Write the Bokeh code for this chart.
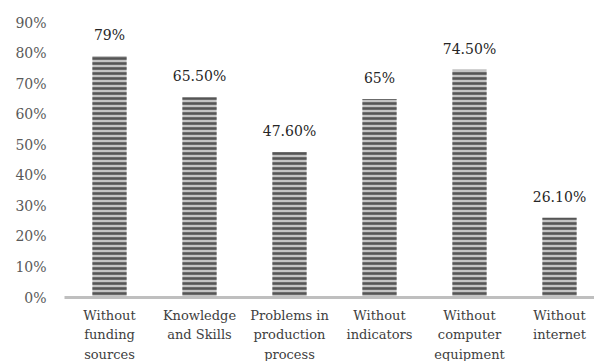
from bokeh.plotting import figure
from bokeh.models import Range1d, ColumnDataSource, FixedTicker, NumeralTickFormatter
from bokeh.core.properties import value
from bokeh.embed import file_html
from bokeh.resources import INLINE

categories = ["Without\nfunding\nsources", "Knowledge\nand Skills", "Problems in\nproduction\nprocess",
              "Without\nindicators", "Without\ncomputer\nequipment", "Without\ninternet"]
values = [0.79, 0.655, 0.476, 0.65, 0.745, 0.261]
value_labels = ["79%", "65.50%", "47.60%", "65%", "74.50%", "26.10%"]
y_ticks = [0, 0.1, 0.2, 0.3, 0.4, 0.5, 0.6, 0.7, 0.8, 0.9]

FONT = "DejaVu Serif"
xs = [i + 0.5 for i in range(len(categories))]

p = figure(frame_width=530, frame_height=275, output_backend="svg", toolbar_location=None,
           x_range=Range1d(0, 530 / 90), y_range=Range1d(0, 0.9),
           min_border_left=64, min_border_right=0, min_border_top=22, min_border_bottom=58)
p.outline_line_color = None
p.grid.grid_line_color = None
p.background_fill_color = "white"
p.border_fill_color = "white"

src = ColumnDataSource(dict(x=xs, top=values, lab=value_labels))
p.vbar(x="x", top="top", width=0.38, source=src, fill_color="#c4c4c4", line_color=None,
       hatch_pattern="horizontal_line", hatch_color="#555555", hatch_weight=2.6, hatch_scale=5)
p.text(x="x", y="top", text="lab", source=src, text_align="center", text_baseline="bottom",
       y_offset=-13, text_font=value(FONT), text_font_size="14px", text_color="#262626")

p.yaxis.ticker = FixedTicker(ticks=y_ticks)
p.yaxis.formatter = NumeralTickFormatter(format="0%")
p.yaxis.axis_line_color = None
p.yaxis.major_tick_line_color = None
p.yaxis.minor_tick_line_color = None
p.yaxis.major_tick_out = 0
p.yaxis.major_label_standoff = 18
p.yaxis.major_label_text_font = FONT
p.yaxis.major_label_text_font_size = "14px"
p.yaxis.major_label_text_color = "#595959"

p.xaxis.ticker = FixedTicker(ticks=xs)
p.xaxis.major_label_overrides = {x: c for x, c in zip(xs, categories)}
p.xaxis.axis_line_color = "#bfbfbf"
p.xaxis.axis_line_width = 3
p.xaxis.major_tick_line_color = None
p.xaxis.minor_tick_line_color = None
p.xaxis.major_tick_out = 0
p.xaxis.major_label_standoff = 10
p.xaxis.major_label_text_font = FONT
p.xaxis.major_label_text_font_size = "13px"
p.xaxis.major_label_text_line_height = 1.3
p.xaxis.major_label_text_color = "#404040"

open("out.html", "w").write(file_html(p, INLINE))
